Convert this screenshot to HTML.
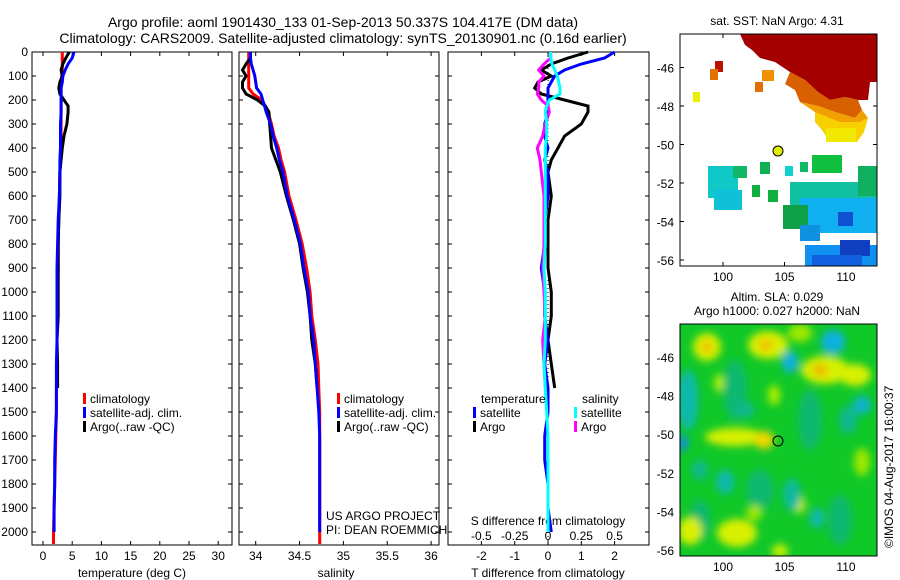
<!DOCTYPE html>
<html><head><meta charset="utf-8"><style>
body{margin:0;background:#fff}
svg{display:block;font-family:"Liberation Sans",sans-serif}
text{fill:#000}
</style></head><body>
<svg id="s" width="900" height="580" viewBox="0 0 900 580">
<defs>
<filter id="bl" x="-50%" y="-50%" width="200%" height="200%"><feGaussianBlur stdDeviation="4"/></filter>
<clipPath id="c1"><rect x="680" y="34" width="197" height="232"/></clipPath>
<clipPath id="c2"><rect x="680" y="324" width="197" height="232"/></clipPath>
</defs>
<text x="343" y="27" font-size="14" text-anchor="middle">Argo profile: aoml 1901430_133 01-Sep-2013 50.337S 104.417E (DM data)</text>
<text x="343" y="43" font-size="14" text-anchor="middle">Climatology: CARS2009. Satellite-adjusted climatology: synTS_20130901.nc (0.16d earlier)</text>
<g id="g"></g>

<!-- SST map -->
<g clip-path="url(#c1)">
<polygon fill="#a50000" points="740,34 877,34 877,82 870,82 868,100 858,100 845,97 830,100 818,92 805,80 790,72 775,62 760,58 752,50 745,45"/>
<polygon fill="#d86000" points="790,72 805,80 818,92 830,100 845,97 858,100 862,110 855,118 835,112 818,106 800,102 795,90 785,84"/>
<polygon fill="#f0a000" points="800,102 818,106 835,112 855,118 862,110 868,118 860,122 840,122 820,118 815,112"/>
<polygon fill="#f8d000" points="815,112 840,122 860,122 868,118 864,132 857,142 830,142 822,130 815,122"/>
<rect x="826" y="128" width="30" height="14" fill="#f0e800"/>
<rect x="715" y="61" width="8" height="11" fill="#c01000"/>
<rect x="710" y="69" width="8" height="11" fill="#e07000"/>
<rect x="762" y="70" width="12" height="11" fill="#f09000"/>
<rect x="755" y="82" width="8" height="10" fill="#e07000"/>
<rect x="693" y="92" width="7" height="10" fill="#e8f000"/>
<rect x="708" y="166" width="30" height="32" fill="#10c8c8"/>
<rect x="714" y="190" width="28" height="20" fill="#10c0d8"/>
<rect x="733" y="166" width="14" height="12" fill="#10b868"/>
<rect x="760" y="162" width="10" height="12" fill="#10b050"/>
<rect x="752" y="185" width="8" height="12" fill="#10b040"/>
<rect x="768" y="190" width="10" height="12" fill="#10b040"/>
<rect x="785" y="166" width="8" height="10" fill="#10d0d0"/>
<rect x="800" y="162" width="8" height="10" fill="#10b868"/>
<rect x="790" y="182" width="87" height="30" fill="#10c0a0"/>
<rect x="812" y="155" width="30" height="18" fill="#10c040"/>
<rect x="858" y="166" width="19" height="30" fill="#10b060"/>
<rect x="800" y="198" width="77" height="35" fill="#10b0f0"/>
<rect x="783" y="205" width="25" height="24" fill="#10a048"/>
<rect x="800" y="225" width="20" height="16" fill="#1090e0"/>
<rect x="838" y="212" width="15" height="14" fill="#1050d0"/>
<rect x="805" y="245" width="72" height="21" fill="#1090f0"/>
<rect x="840" y="240" width="30" height="16" fill="#1040c0"/>
<rect x="812" y="255" width="50" height="11" fill="#1060e0"/>
</g>
<rect x="680" y="34" width="197" height="232" fill="none" stroke="#000"/>
<circle cx="778" cy="151" r="5" fill="#e0f000" stroke="#000"/>
<text x="777" y="25" font-size="12" text-anchor="middle">sat. SST: NaN Argo: 4.31</text>

<!-- SLA map -->
<g clip-path="url(#c2)">
<rect x="680" y="324" width="197" height="232" fill="#10c828"/>
<g filter="url(#bl)">
<ellipse cx="735" cy="390" rx="12" ry="30" fill="#10b870"/>
<ellipse cx="810" cy="420" rx="12" ry="30" fill="#10b870"/>
<ellipse cx="760" cy="490" rx="14" ry="20" fill="#10b870"/>
<ellipse cx="840" cy="520" rx="12" ry="25" fill="#10b870"/>
<ellipse cx="700" cy="520" rx="10" ry="20" fill="#10b870"/>
<ellipse cx="707" cy="347" rx="14" ry="14" fill="#d8f000"/>
<ellipse cx="707" cy="347" rx="6" ry="6" fill="#f0c000"/>
<ellipse cx="768" cy="345" rx="20" ry="14" fill="#d8f000"/>
<ellipse cx="766" cy="345" rx="7" ry="6" fill="#f0c000"/>
<ellipse cx="800" cy="333" rx="12" ry="9" fill="#a0e800"/>
<ellipse cx="825" cy="370" rx="24" ry="14" fill="#d8f000"/>
<ellipse cx="820" cy="370" rx="7" ry="6" fill="#f0b000"/>
<ellipse cx="855" cy="375" rx="16" ry="11" fill="#d8f000"/>
<ellipse cx="735" cy="437" rx="30" ry="9" fill="#d8f000"/>
<ellipse cx="764" cy="440" rx="10" ry="9" fill="#f0d800"/>
<ellipse cx="690" cy="531" rx="12" ry="14" fill="#d8f000"/>
<ellipse cx="737" cy="533" rx="20" ry="14" fill="#d8f000"/>
<ellipse cx="799" cy="504" rx="6" ry="9" fill="#d8f000"/>
<ellipse cx="774" cy="395" rx="6" ry="10" fill="#b0f000"/>
<ellipse cx="719" cy="383" rx="5" ry="9" fill="#b0f000"/>
<ellipse cx="754" cy="513" rx="8" ry="8" fill="#a0e800"/>
<ellipse cx="780" cy="551" rx="8" ry="7" fill="#c8f000"/>
<ellipse cx="862" cy="462" rx="8" ry="14" fill="#a0e800"/>
<ellipse cx="833" cy="342" rx="12" ry="12" fill="#10b0e0"/>
<ellipse cx="790" cy="362" rx="8" ry="11" fill="#10b0e0"/>
<ellipse cx="688" cy="400" rx="10" ry="30" fill="#10b8b0"/>
<ellipse cx="682" cy="443" rx="6" ry="8" fill="#1090e0"/>
<ellipse cx="725" cy="482" rx="9" ry="12" fill="#10b8b0"/>
<ellipse cx="745" cy="410" rx="10" ry="8" fill="#10b890"/>
<ellipse cx="862" cy="405" rx="9" ry="9" fill="#10b0d0"/>
<ellipse cx="792" cy="495" rx="9" ry="16" fill="#10b8a0"/>
<ellipse cx="817" cy="518" rx="7" ry="10" fill="#10b8b0"/>
<ellipse cx="848" cy="420" rx="9" ry="14" fill="#10b890"/>
<ellipse cx="700" cy="470" rx="8" ry="10" fill="#10b890"/>
</g>
</g>
<rect x="680" y="324" width="197" height="232" fill="none" stroke="#000"/>
<circle cx="778" cy="441" r="5" fill="none" stroke="#000"/>
<text x="777" y="301" font-size="12" text-anchor="middle">Altim. SLA: 0.029</text>
<text x="777" y="315" font-size="12" text-anchor="middle">Argo h1000: 0.027 h2000: NaN</text>
<text transform="translate(893,548) rotate(-90)" font-size="12">©IMOS 04-Aug-2017 16:00:37</text>
</svg>
<script>
const depths=[0,25,50,75,100,125,150,175,200,225,250,300,350,400,450,500,600,700,800,900,1000,1100,1200,1300,1400,1500,1600,1700,1800,1900,2000,2050];
const tempClim=[3.3,3.3,3.3,3.3,3.2,3.2,3.1,3.1,3.1,3.1,3.1,3.1,3.1,3.0,3.0,2.9,2.8,2.7,2.6,2.6,2.5,2.5,2.4,2.4,2.3,2.3,2.2,2.1,2.0,1.9,1.8,1.8];
const tempSat=[5.3,5.0,4.3,3.8,3.4,3.3,3.1,3.1,3.1,3.1,3.1,3.0,3.0,3.0,2.9,2.9,2.8,2.6,2.5,2.4,2.4,2.4,2.4,2.3,2.3,2.3,2.1,2.0,2.0,1.9,1.9,null];
const tempArgo=[4.5,3.9,3.4,3.1,3.3,2.9,2.7,2.9,3.6,4.3,4.3,4.1,3.6,3.3,3.1,2.9,2.9,2.7,2.6,2.6,2.6,2.6,2.4,2.5,2.5,null,null,null,null,null,null,null];
const salClim=[33.92,33.92,33.92,33.92,33.92,33.92,33.92,33.97,34.07,34.11,34.14,34.18,34.21,34.26,34.29,34.33,34.38,34.46,34.53,34.58,34.62,34.64,34.68,34.71,34.72,34.73,34.73,34.73,34.73,34.73,34.73,34.73];
const salSat=[33.94,33.94,33.95,33.97,33.99,34.0,34.01,34.06,34.08,34.10,34.12,34.17,34.2,34.24,34.27,34.31,34.36,34.44,34.51,34.55,34.6,34.62,34.66,34.68,34.7,34.72,34.73,34.73,34.73,34.73,34.73,null];
const salArgo=[33.94,33.94,33.89,33.85,33.89,33.85,33.85,33.89,34.02,34.11,34.15,34.16,34.17,34.18,34.23,34.28,34.35,34.43,34.5,34.54,34.59,34.62,34.64,34.68,34.7,null,null,null,null,null,null,null];
const depthTicks=[0,100,200,300,400,500,600,700,800,900,1000,1100,1200,1300,1400,1500,1600,1700,1800,1900,2000];
const tempTicks=[0,5,10,15,20,25,30];
const salTicks=[34,34.5,35,35.5,36];
const salTickLabels=["34","34.5","35","35.5","36"];
const tdTicks=[-2,-1,0,1,2];
const sdTicks=[-0.5,-0.25,0,0.25,0.5];
const sdTickLabels=["-0.5","-0.25","0","0.25","0.5"];

const NS='http://www.w3.org/2000/svg';
const G=document.getElementById('g');
function mk(tag,at,parent){const e=document.createElementNS(NS,tag);for(const k in at)e.setAttribute(k,at[k]);(parent||G).appendChild(e);return e;}
const TOP=52,BOT=545;
const yD=d=>TOP+d*0.24;
const xT=t=>43+t*5.84;
const xS=s=>255.7+(s-34)*87.7;
const xTD=v=>548+v*33.3;
const xSD=v=>548+v*133.2;
const panels=[{x0:32,x1:232,n:'temperature-panel'},{x0:239,x1:439,n:'salinity-panel'},{x0:448,x1:649,n:'difference-panel'}];
panels.forEach(p=>{
  const r=mk('rect',{x:p.x0,y:TOP,width:p.x1-p.x0,height:BOT-TOP,fill:'none',stroke:'#000'});
  
  
  depthTicks.forEach(d=>{
    mk('line',{x1:p.x0,x2:p.x0+4,y1:yD(d),y2:yD(d),stroke:'#000'});
    mk('line',{x1:p.x1,x2:p.x1-4,y1:yD(d),y2:yD(d),stroke:'#000'});
  });
});
depthTicks.forEach(d=>{
  const t=mk('text',{x:28,y:yD(d)+4,'font-size':12,'text-anchor':'end'});
  
  
  t.textContent=d;
});
function xticks(vals,labels,fx,ly,name){
  vals.forEach((v,i)=>{
    const x=fx(v);
    mk('line',{x1:x,x2:x,y1:TOP,y2:TOP+4,stroke:'#000'});
    mk('line',{x1:x,x2:x,y1:BOT,y2:BOT-4,stroke:'#000'});
    const t=mk('text',{x:x,y:ly,'font-size':12,'text-anchor':'middle'});
    
    
    t.textContent=labels[i];
  });
}
xticks(tempTicks,tempTicks,xT,560,'temperature-tick-label');
xticks(salTicks,salTickLabels,xS,560,'salinity-tick-label');
xticks(tdTicks,tdTicks,xTD,560,'t-diff-tick-label');
sdTicks.forEach((v,i)=>{
  const t=mk('text',{x:xSD(v),y:540,'font-size':12,'text-anchor':'middle'});
  
  
  t.textContent=sdTickLabels[i];
});
function lbl(x,y,s,name,anchor){const t=mk('text',{x:x,y:y,'font-size':12,'text-anchor':anchor||'middle'});t.textContent=s;return t;}
lbl(132,577,'temperature (deg C)','temperature-axis-title');
lbl(336,577,'salinity','salinity-axis-title');
lbl(548,577,'T difference from climatology','t-diff-axis-title');
lbl(548,525,'S difference from climatology','s-diff-axis-title');
lbl(326,520,'US ARGO PROJECT','project-label','start');
lbl(326,534,'PI: DEAN ROEMMICH','pi-label','start');

function series(vals,fx,color,name,w){
  let pts=[];
  vals.forEach((v,i)=>{if(v!==null)pts.push(fx(v).toFixed(1)+','+yD(depths[i]).toFixed(1));});
  const p=mk('polyline',{points:pts.join(' '),fill:'none',stroke:color,'stroke-width':w||3});
  
  
}
series(tempClim,xT,'#f00','temp-climatology-line');
series(tempArgo,xT,'#000','temp-argo-line');
series(tempSat,xT,'#00f','temp-satellite-line');
series(salClim,xS,'#f00','sal-climatology-line');
series(salArgo,xS,'#000','sal-argo-line');
series(salSat,xS,'#00f','sal-satellite-line');
const z=mk('line',{x1:548,x2:548,y1:TOP,y2:BOT,stroke:'#000','stroke-dasharray':'1,3'});


const diff=(a,b)=>a.map((v,i)=>v===null||b[i]===null?null:v-b[i]);
series(diff(tempArgo,tempClim),xTD,'#000','t-diff-argo-line');
series(diff(tempSat,tempClim),xTD,'#00f','t-diff-satellite-line');
series(diff(salArgo,salClim),xSD,'#f0f','s-diff-argo-line');
series(diff(salSat,salClim),xSD,'#0ff','s-diff-satellite-line');

function legend(x,y,color,text,name){
  const r=mk('rect',{x:x,y:y-10,width:3,height:11,fill:color});
  
  
  lbl(x+7,y,text,name,'start');
}
[[83,'legend-1'],[337,'legend-2']].forEach(([x,n])=>{
  legend(x,403,'#f00','climatology',n+'-climatology');
  legend(x,417,'#00f','satellite-adj. clim.',n+'-satellite');
  legend(x,431,'#000','Argo(..raw -QC)',n+'-argo');
});
lbl(481,403,'temperature','legend-3-temperature-heading','start');
legend(473,417,'#00f','satellite','legend-3-t-satellite');
legend(473,431,'#000','Argo','legend-3-t-argo');
lbl(582,403,'salinity','legend-3-salinity-heading','start');
legend(574,417,'#0ff','satellite','legend-3-s-satellite');
legend(574,431,'#f0f','Argo','legend-3-s-argo');

const lonTicks=[100,105,110];
const latTicks=[-46,-48,-50,-52,-54,-56];
const xLon=l=>723+(l-100)*12.3;
[[34,67.5,19.25,281],[324,357,19.3,571]].forEach(([top,y46,k,ly],mi)=>{
  const yL=l=>y46+(-46-l)*k;
  latTicks.forEach(l=>{
    mk('line',{x1:680,x2:684,y1:yL(l),y2:yL(l),stroke:'#000'});
    mk('line',{x1:877,x2:873,y1:yL(l),y2:yL(l),stroke:'#000'});
    lbl(674,yL(l)+5,String(l),'map-'+(mi+1)+'-lat-label','end');
  });
  lonTicks.forEach(l=>{
    mk('line',{x1:xLon(l),x2:xLon(l),y1:top,y2:top+4,stroke:'#000'});
    mk('line',{x1:xLon(l),x2:xLon(l),y1:top+232,y2:top+228,stroke:'#000'});
    lbl(xLon(l),ly,String(l),'map-'+(mi+1)+'-lon-label');
  });
});
</script>
</body></html>
